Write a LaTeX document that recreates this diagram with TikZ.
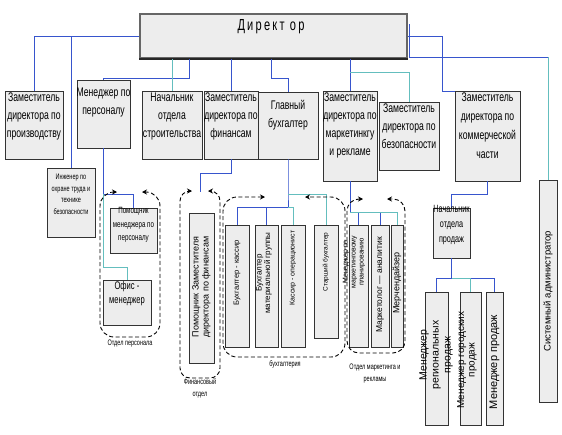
\documentclass[tikz,border=0pt]{standalone}
\usepackage{fontspec}
\setmainfont{Liberation Sans}[FakeStretch=0.69]
\newfontfamily\rf{Liberation Sans}
\usetikzlibrary{arrows.meta}
\definecolor{bl}{RGB}{55,85,205}
\definecolor{tl}{RGB}{100,190,190}
\newcommand\mybox[5]{\node[box, minimum width={(#4-#2)*1pt}, minimum height={(#5-#3)*1pt}] (#1) at ({(#2+#4)/2},{(#3+#5)/2}) {};}
\begin{document}
\begin{tikzpicture}[x=1pt,y=-1pt,
 box/.style={draw=black!80, fill=black!7, line width=0.9pt, inner sep=0pt, outer sep=0pt},
 bline/.style={draw=bl, line width=0.9pt},
 tline/.style={draw=tl, line width=0.9pt},
 grp/.style={draw=black, line width=0.9pt, dash pattern=on 4pt off 2.5pt, rounded corners=14pt, arrows={Stealth[length=5pt,width=5pt]-Stealth[length=5pt,width=5pt]}},
 tx/.style={anchor=north, align=center, inner sep=0pt, font=\fontsize{12.5}{18}\selectfont},
 vt/.style={rotate=90, align=center, inner sep=0pt},
 lab/.style={align=center, inner sep=0pt, font=\fontsize{8}{12}\selectfont}]
\path[use as bounding box, fill=white] (0,0) rectangle (562,434);

% director
\node[draw=black!60, fill=black!7, line width=1.6pt, minimum width=267pt, minimum height=44pt, inner sep=0pt] (dir) at (273.5,36) {};
\draw[black!85, line width=1.6pt] (dir.south west) -- (dir.south east);
\node[inner sep=0pt, font=\fontsize{16}{16}\selectfont\addfontfeature{LetterSpace=14}] (dirt) at (271,27) {Директ ор};

% boxes
\mybox{prod}{5}{91}{63}{159}
\mybox{pers}{77}{80}{130}{148}
\mybox{stroy}{142}{91}{202}{159}
\mybox{fin}{204}{91}{258}{159}
\mybox{buh}{258}{92}{318}{159}
\mybox{mark}{323}{91}{377}{181}
\mybox{bez}{379}{102}{439}{170}
\mybox{kom}{455}{91}{520}{181}
\mybox{sys}{539}{180}{557}{402}
\mybox{ing}{47}{168}{95}{237}
\mybox{pom}{110}{208}{157}{253}
\mybox{ofis}{103}{280}{151}{325}
\mybox{finpom}{189}{213}{214}{363}
\mybox{kas}{225}{225}{249}{347}
\mybox{mat}{255}{225}{278}{347}
\mybox{oper}{281}{225}{305}{347}
\mybox{star}{314}{225}{338}{338}
\mybox{mm}{349}{225}{368}{347}
\mybox{anal}{371}{225}{389}{347}
\mybox{mer}{391}{225}{403}{347}
\mybox{nach}{433}{208}{470}{258}
\mybox{reg}{425}{292}{448}{425}
\mybox{gor}{460}{292}{481}{425}
\mybox{mp}{486}{292}{503}{425}

% connectors from director
\coordinate (j1) at (71,36);
\draw[bline] (dir.west) -| (prod.north);
\draw[bline] (j1) -- (ing.north);
\draw[bline] (dir.south west) ++(50,0) -- ++(0,20) -| (pers.north);
\draw[tline] (dir.south -| stroy.north) -- (stroy.north);
\draw[bline] (dir.south -| fin.north) -- (fin.north);
\draw[bline] (dir.south west) ++(132,0) -- ++(0,20) -| (buh.north);
\draw[bline] (dir.south -| mark.north) -- (mark.north);
\draw[tline] (dir.south -| mark.north) ++(0,14) -| (bez.north);
\draw[bline] (dir.east) -- ++(35,0) |- (kom.north west);
\draw[bline] (dir.north east) ++(2,11) -- ++(0,33) coordinate (r2) -- (r2 -| sys.north);
\draw[tline] (r2 -| sys.north) -- (sys.north);

% lower connectors
\draw[bline] (pers.south) -- ++(0,46) -| (pom.north);
\draw[tline] (pers.south) ++(0,46) -- ++(0,73) -| (ofis.north);
\coordinate (fg) at (200,192);
\draw[bline] (fin.south) -- ++(0,14) -| (fg);
\draw[bline] (buh.south) -- ++(0,35) coordinate (b1) -- ++(0,13) coordinate (b2);
\draw[bline] (b2) -| (kas.north);
\draw[bline] (b2) -| (mat.north);
\draw[tline] (b2) -| (oper.north);
\draw[tline] (b1) -| (star.north);
\draw[bline] (mark.south) -- ++(0,31) coordinate (m1);
\draw[bline] (m1) -| (mm.north);
\draw[bline] (m1) -| (anal.north);
\draw[tline] (m1) -| (mer.north);
\draw[bline] (kom.south) -- ++(0,13) -| (nach.north);
\draw[bline] (nach.south) -- ++(0,20) coordinate (s1);
\draw[bline] (s1) -| (reg.north);
\draw[bline] (s1) -| (mp.north);
\draw[tline] (s1) -| (gor.north);

% dashed groups
\draw[grp] (117,192) -- (100,192) -- (100,337) -- (160,337) -- (160,192) -- (142,192);
\draw[grp, rounded corners=10pt] (192,191) -- (180,191) -- (180,378) -- (220,378) -- (220,191) -- (208,191);
\draw[grp] (265,197) -- (223,197) -- (223,357) -- (345,357) -- (345,197) -- (305,197);
\draw[grp, rounded corners=12pt] (363,199) -- (347,199) -- (347,353) -- (405,353) -- (405,199) -- (387,199);

% texts of upper boxes
\node[tx] (prod-t) at ([yshift=-1.5pt]prod.north) {Заместитель\\директора по\\производству};
\node[tx] (pers-t) at ([yshift=-8pt]pers.north) {Менеджер по\\персоналу};
\node[tx] (stroy-t) at ([yshift=-1.5pt]stroy.north) {Начальник\\отдела\\строительства};
\node[tx] (fin-t) at ([yshift=-1.5pt]fin.north) {Заместитель\\директора по\\финансам};
\node[tx] (buh-t) at ([yshift=-8pt]buh.north) {Главный\\бухгалтер};
\node[tx] (mark-t) at ([yshift=-1.5pt]mark.north) {Заместитель\\директора по\\маркетинкгу\\и рекламе};
\node[tx] (bez-t) at ([yshift=-1.5pt]bez.north) {Заместитель\\директора по\\безопасности};
\node[tx, font=\fontsize{12.5}{19}\selectfont] (kom-t) at ([yshift=-1.5pt]kom.north) {Заместитель\\директора по\\коммерческой\\части};
\node[tx, font=\fontsize{8}{11.5}\selectfont] (ing-t) at ([yshift=-6pt]ing.north) {Инженер по\\охране труда и\\технике\\безопасности};
\node[align=center, inner sep=0pt, font=\fontsize{9}{13.5}\selectfont] (pom-t) at ([yshift=5.5pt]pom.center) {Помощник\\менеджера по\\персоналу};
\node[align=center, inner sep=0pt, font=\fontsize{11}{14}\selectfont] (ofis-t) at ([yshift=8.5pt]ofis.center) {Офис -\\менеджер};
\node[align=center, inner sep=0pt, font=\fontsize{10.5}{15}\selectfont] (nach-t) at ([yshift=8pt]nach.center) {Начальник\\отдела\\продаж};

% rotated texts
\node[vt, font=\rf\fontsize{9}{10}\selectfont] (finpom-t) at (201.5,287) {Помощник Заместителя\\директора по финансам};
\node[vt, font=\rf\fontsize{7.5}{8}\selectfont] (kas-t) at (237,273) {Бухгалтер - кассир};
\node[vt, font=\rf\fontsize{8}{8.5}\selectfont] (mat-t) at (264,273) {Бухгалтер\\материальной группы};
\node[vt, font=\rf\fontsize{7}{8}\selectfont] (oper-t) at (293,268) {Кассир - операционист};
\node[vt, font=\rf\fontsize{6.5}{8}\selectfont] (star-t) at (326,262) {Старший бухгалтер};
\node[vt, font=\rf\fontsize{7}{8}\selectfont] (mm-t) at (354,262) {Менеджер по\\маркетинговому\\планированию};
\node[vt, font=\rf\fontsize{8.5}{9}\selectfont] (anal-t) at (380,285) {Маркетолог — аналитик};
\node[vt, font=\rf\fontsize{9}{9}\selectfont] (mer-t) at (397,283) {Мерчендайзер};
\node[vt, font=\rf\fontsize{9.5}{10}\selectfont] (sys-t) at (548,291) {Системный администратор};
\node[vt, font=\rf\fontsize{10.5}{12}\selectfont] (reg-t) at (436,355) {Менеджер\\региональных\\продаж};
\node[vt, font=\rf\fontsize{10}{10.5}\selectfont] (gor-t) at (467,360) {Менеджер городских\\продаж};
\node[vt, font=\rf\fontsize{11}{12}\selectfont] (mp-t) at (494.5,362) {Менеджер продаж};

% group labels
\node[lab] (l1) at (130,344) {Отдел персонала};
\node[lab] (l2) at (200,388) {Финансовый\\отдел};
\node[lab] (l3) at (285,364) {бухгалтерия};
\node[lab] (l4) at (375,374) {Отдел маркетинга и\\рекламы};
\end{tikzpicture}
\end{document}
